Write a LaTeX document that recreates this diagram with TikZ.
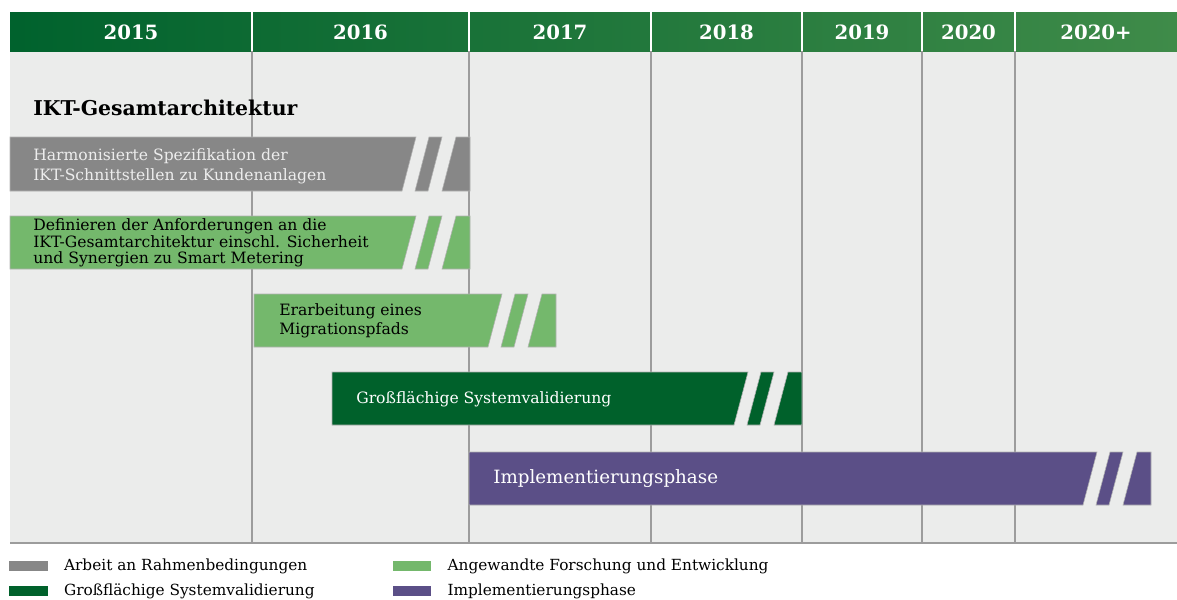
\documentclass[tikz,border=0pt]{standalone}
\usepackage{fontspec}
\setmainfont{DejaVu Serif}
\usetikzlibrary{positioning}
\usepackage{xcolor}
\definecolor{headDark}{HTML}{00622D}
\definecolor{headLight}{HTML}{3F8B49}
\definecolor{panelGray}{HTML}{EBECEB}
\definecolor{ruleGray}{HTML}{9C9C9C}
\definecolor{barGray}{HTML}{878787}
\definecolor{barLight}{HTML}{74B86C}
\definecolor{barDark}{HTML}{00612B}
\definecolor{barViolet}{HTML}{5B4F87}
\tikzset{%
	every year/.style={
		text=white,
		font=\bfseries\fontsize{14}{17}\selectfont
	},
	bar text/.style={
		anchor=west,
		align=left,
		inner sep=0pt,
		font=\fontsize{11.1}{14.2}\selectfont
	},
	swatch/.style={
		minimum width=0.95cm,
		minimum height=0.25cm,
		inner sep=0pt
	},
	legend text/.style={
		inner sep=0pt,
		font=\fontsize{10.9}{13}\selectfont
	},
}
% bar with break marks: colour, left, right, top, bottom
\newcommand{\timebar}[5]{%
	\filldraw[#1, draw=black!30, line width=0.4pt] (#2,#4) -- (#3-54,#4) -- (#3-68,#5) -- (#2,#5) -- cycle;
	\filldraw[#1, draw=black!30, line width=0.4pt] (#3-41,#4) -- (#3-28,#4) -- (#3-42,#5) -- (#3-55,#5) -- cycle;
	\filldraw[#1, draw=black!30, line width=0.4pt] (#3-14,#4) -- (#3,#4) -- (#3,#5) -- (#3-28,#5) -- cycle;
}

\begin{document}
\begin{tikzpicture}[x=0.025cm, y=-0.025cm]
				\useasboundingbox (0,0) rectangle (1177,599);
				% Panel
				\fill[panelGray] (10,51) rectangle (1177,543);
				\shade[left color=headDark, right color=headLight] (10,12) rectangle (1177,51);
				\draw[ruleGray, line width=0.8pt] (10,543) -- (1177,543);
				% Year columns
				\foreach \x in {252,469,651,802,922,1015}
				{
					\draw[white, line width=0.8pt] (\x,12) -- (\x,51);
					\draw[ruleGray, line width=0.8pt] (\x,51) -- (\x,543);
				}
				\foreach \a/\b/\yr [count=\i] in {10/252/2015,252/469/2016,469/651/2017,651/802/2018,802/922/2019,922/1015/2020,1015/1177/2020+}
				{
					\node[every year] (year-\i) at ({(\a+\b)/2},32) {\yr};
				}
				% Title
				\node[anchor=west, inner sep=0pt, font=\bfseries\fontsize{14.5}{17}\selectfont] (title) at (33,108) {IKT-Gesamtarchitektur};
				% Bars
				\timebar{barGray}{10}{470}{137}{191}
				\timebar{barLight}{10}{470}{216}{269}
				\timebar{barLight}{254}{556}{294}{347}
				\timebar{barDark}{332}{802}{372}{425}
				\timebar{barViolet}{469}{1151}{452}{505}
				\node[bar text, text=white!93!black] (task-1) at (33,166) {Harmonisierte Spezifikation der\\IKT-Schnittstellen zu Kundenanlagen};
				\node[bar text, font=\fontsize{11.1}{11.8}\selectfont] (task-2) at (33,243) {Definieren der Anforderungen an die\\IKT-Gesamtarchitektur einschl. Sicherheit\\und Synergien zu Smart Metering};
				\node[bar text, font=\fontsize{11.1}{13.5}\selectfont] (task-3) at (279,321) {Erarbeitung eines\\Migrationspfads};
				\node[bar text, text=white] (task-4) at (356,399) {Großflächige Systemvalidierung};
				\node[bar text, text=white, font=\fontsize{13}{15}\selectfont] (task-5) at (493,479) {Implementierungsphase};
				% Legend
				\node[swatch, fill=barGray] (leg-1) at (28.5,566) {};
				\node[swatch, fill=barDark] (leg-2) at (28.5,591) {};
				\node[swatch, fill=barLight] (leg-3) at (412,566) {};
				\node[swatch, fill=barViolet] (leg-4) at (412,591) {};
				\node[legend text, right=0.4cm of leg-1] (txt-1) {Arbeit an Rahmenbedingungen};
				\node[legend text, right=0.4cm of leg-2] (txt-2) {Großflächige Systemvalidierung};
				\node[legend text, right=0.4cm of leg-3] (txt-3) {Angewandte Forschung und Entwicklung};
				\node[legend text, right=0.4cm of leg-4] (txt-4) {Implementierungsphase};
			\end{tikzpicture}
\end{document}
